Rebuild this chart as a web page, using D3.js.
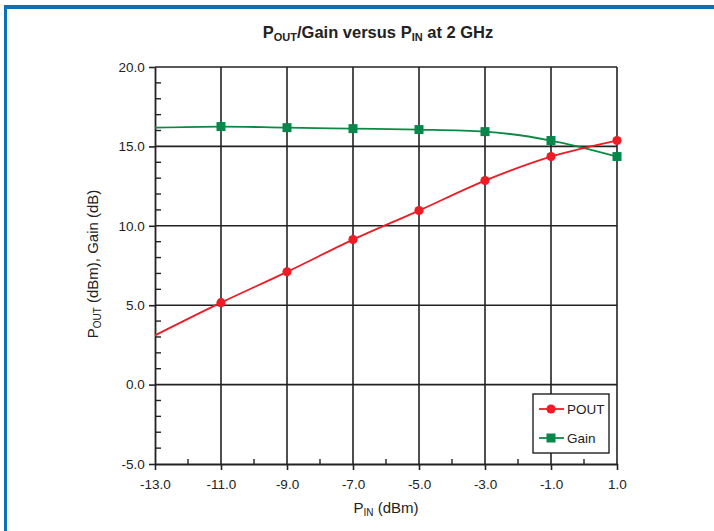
<!DOCTYPE html>
<html lang="en">
<head>
  <meta charset="UTF-8">
  <title>POUT/Gain versus PIN at 2 GHz</title>
  <script src="https://d3js.org/d3.v7.min.js"></script>
  <style>
    body {
      margin: 0;
      background: #fff;
      font-family: "Liberation Sans", Arial, sans-serif;
    }
    .tick text {
      font-family: "Liberation Sans", Arial, sans-serif;
      font-size: 13.5px;
      fill: #222;
    }
  </style>
</head>
<body>
  <svg id="chart" width="714" height="531"></svg>

  <script>
    // input power (dBm); first point has no marker, curve just starts there
    const pin = [-13, -11, -9, -7, -5, -3, -1, 1];
    const pout = [3.1, 5.16, 7.1, 9.13, 10.96, 12.85, 14.36, 15.37];
    const gain = [16.18, 16.25, 16.18, 16.12, 16.06, 15.93, 15.37, 14.36];
    const markerFrom = 1;

    const xTicks = [-13, -11, -9, -7, -5, -3, -1, 1];
    const yTicks = [-5, 0, 5, 10, 15, 20];

    const margin = {top: 67, right: 97, bottom: 67, left: 155},
          width = 714 - margin.left - margin.right,
          height = 531 - margin.top - margin.bottom;

    // plain hyphen for negatives, like the original
    const fmt = d => d.toFixed(1);

    const svg = d3.select("#chart");

    // blue frame on top and left
    svg.append("rect").attr("x", 4).attr("y", 5).attr("width", 710).attr("height", 4).attr("fill", "#0a72b8");
    svg.append("rect").attr("x", 4).attr("y", 5).attr("width", 3).attr("height", 526).attr("fill", "#0a72b8");

    const g = svg.append("g")
      .attr("transform", `translate(${margin.left},${margin.top})`);

    const x = d3.scaleLinear().domain([-13, 1]).range([0, width]);
    const y = d3.scaleLinear().domain([-5, 20]).range([height, 0]);

    // grid
    g.append("g").selectAll("line")
      .data(xTicks.slice(1))
      .join("line")
      .attr("x1", d => x(d)).attr("x2", d => x(d))
      .attr("y1", 0).attr("y2", height)
      .attr("stroke", "#222").attr("stroke-width", 1.6);
    g.append("g").selectAll("line")
      .data(yTicks.slice(1))
      .join("line")
      .attr("x1", 0).attr("x2", width)
      .attr("y1", d => y(d)).attr("y2", d => y(d))
      .attr("stroke", "#222").attr("stroke-width", 1.6);

    // minor ticks
    g.append("g").selectAll("line")
      .data(d3.range(-4, 20).filter(v => v % 5 !== 0))
      .join("line")
      .attr("x1", 0).attr("x2", 6)
      .attr("y1", d => y(d)).attr("y2", d => y(d))
      .attr("stroke", "#222").attr("stroke-width", 1.4);
    g.append("g").selectAll("line")
      .data(d3.range(-12, 1, 2))
      .join("line")
      .attr("x1", d => x(d)).attr("x2", d => x(d))
      .attr("y1", height).attr("y2", height - 5)
      .attr("stroke", "#222").attr("stroke-width", 1.4);

    // axes
    const xAxis = g.append("g")
      .attr("transform", `translate(0,${height})`)
      .call(d3.axisBottom(x).tickValues(xTicks).tickFormat(fmt).tickSize(6).tickSizeOuter(0));
    const yAxis = g.append("g")
      .call(d3.axisLeft(y).tickValues(yTicks).tickFormat(fmt).tickSize(6).tickSizeOuter(0));
    [xAxis, yAxis].forEach(a => {
      a.select(".domain").attr("stroke", "#222").attr("stroke-width", 1.8);
      a.selectAll(".tick line").attr("stroke", "#222").attr("stroke-width", 1.6);
    });
    xAxis.selectAll(".tick text").attr("dy", "1.15em");
    yAxis.selectAll(".tick text").attr("dx", "-0.1em");

    // lines
    const line = ys => d3.line()
      .x((d, i) => x(pin[i]))
      .y(d => y(d))
      .curve(d3.curveMonotoneX)(ys);

    g.append("path").attr("d", line(gain))
      .attr("fill", "none").attr("stroke", "#0c8a45").attr("stroke-width", 1.8);
    g.append("path").attr("d", line(pout))
      .attr("fill", "none").attr("stroke", "#ee1c25").attr("stroke-width", 1.8);

    g.append("g").selectAll("rect")
      .data(gain.map((v, i) => [pin[i], v]).slice(markerFrom))
      .join("rect")
      .attr("x", d => x(d[0]) - 4.5).attr("y", d => y(d[1]) - 4.5)
      .attr("width", 9).attr("height", 9)
      .attr("fill", "#07874a");
    g.append("g").selectAll("circle")
      .data(pout.map((v, i) => [pin[i], v]).slice(markerFrom))
      .join("circle")
      .attr("cx", d => x(d[0])).attr("cy", d => y(d[1]))
      .attr("r", 4.6)
      .attr("fill", "#ee1c25");

    // legend
    const lg = svg.append("g").attr("transform", "translate(533,394)");
    lg.append("rect").attr("width", 76).attr("height", 59)
      .attr("fill", "#fff").attr("stroke", "#222").attr("stroke-width", 1.4);
    const items = [
      {name: "POUT", color: "#ee1c25", shape: "circle"},
      {name: "Gain", color: "#0c8a45", shape: "square"}
    ];
    items.forEach((it, i) => {
      const yy = 15 + i * 29;
      lg.append("line").attr("x1", 6).attr("x2", 31).attr("y1", yy).attr("y2", yy)
        .attr("stroke", it.color).attr("stroke-width", 1.8);
      if (it.shape === "circle") {
        lg.append("circle").attr("cx", 18).attr("cy", yy).attr("r", 4.6).attr("fill", it.color);
      } else {
        lg.append("rect").attr("x", 13.5).attr("y", yy - 4.5).attr("width", 9).attr("height", 9).attr("fill", "#07874a");
      }
      lg.append("text").attr("x", 34).attr("y", yy + 5)
        .attr("font-size", 13.5).attr("fill", "#222").text(it.name);
    });

    // title
    const title = svg.append("text")
      .attr("x", 378).attr("y", 38)
      .attr("text-anchor", "middle")
      .attr("font-size", 16.5).attr("font-weight", "bold").attr("fill", "#222");
    title.append("tspan").text("P");
    title.append("tspan").attr("font-size", 11).attr("dy", 3).text("OUT");
    title.append("tspan").attr("dy", -3).text("/Gain versus P");
    title.append("tspan").attr("font-size", 11).attr("dy", 3).text("IN");
    title.append("tspan").attr("dy", -3).text(" at 2 GHz");

    // x label
    const xl = svg.append("text")
      .attr("x", 386).attr("y", 513)
      .attr("text-anchor", "middle")
      .attr("font-size", 15).attr("fill", "#222");
    xl.append("tspan").text("P");
    xl.append("tspan").attr("font-size", 10).attr("dy", 3).text("IN");
    xl.append("tspan").attr("dy", -3).text(" (dBm)");

    // y label
    const yl = svg.append("text")
      .attr("transform", "translate(98,264) rotate(-90)")
      .attr("text-anchor", "middle")
      .attr("font-size", 15).attr("fill", "#222");
    yl.append("tspan").text("P");
    yl.append("tspan").attr("font-size", 10).attr("dy", 3).text("OUT");
    yl.append("tspan").attr("dy", -3).text(" (dBm), Gain (dB)");
  </script>
</body>
</html>
